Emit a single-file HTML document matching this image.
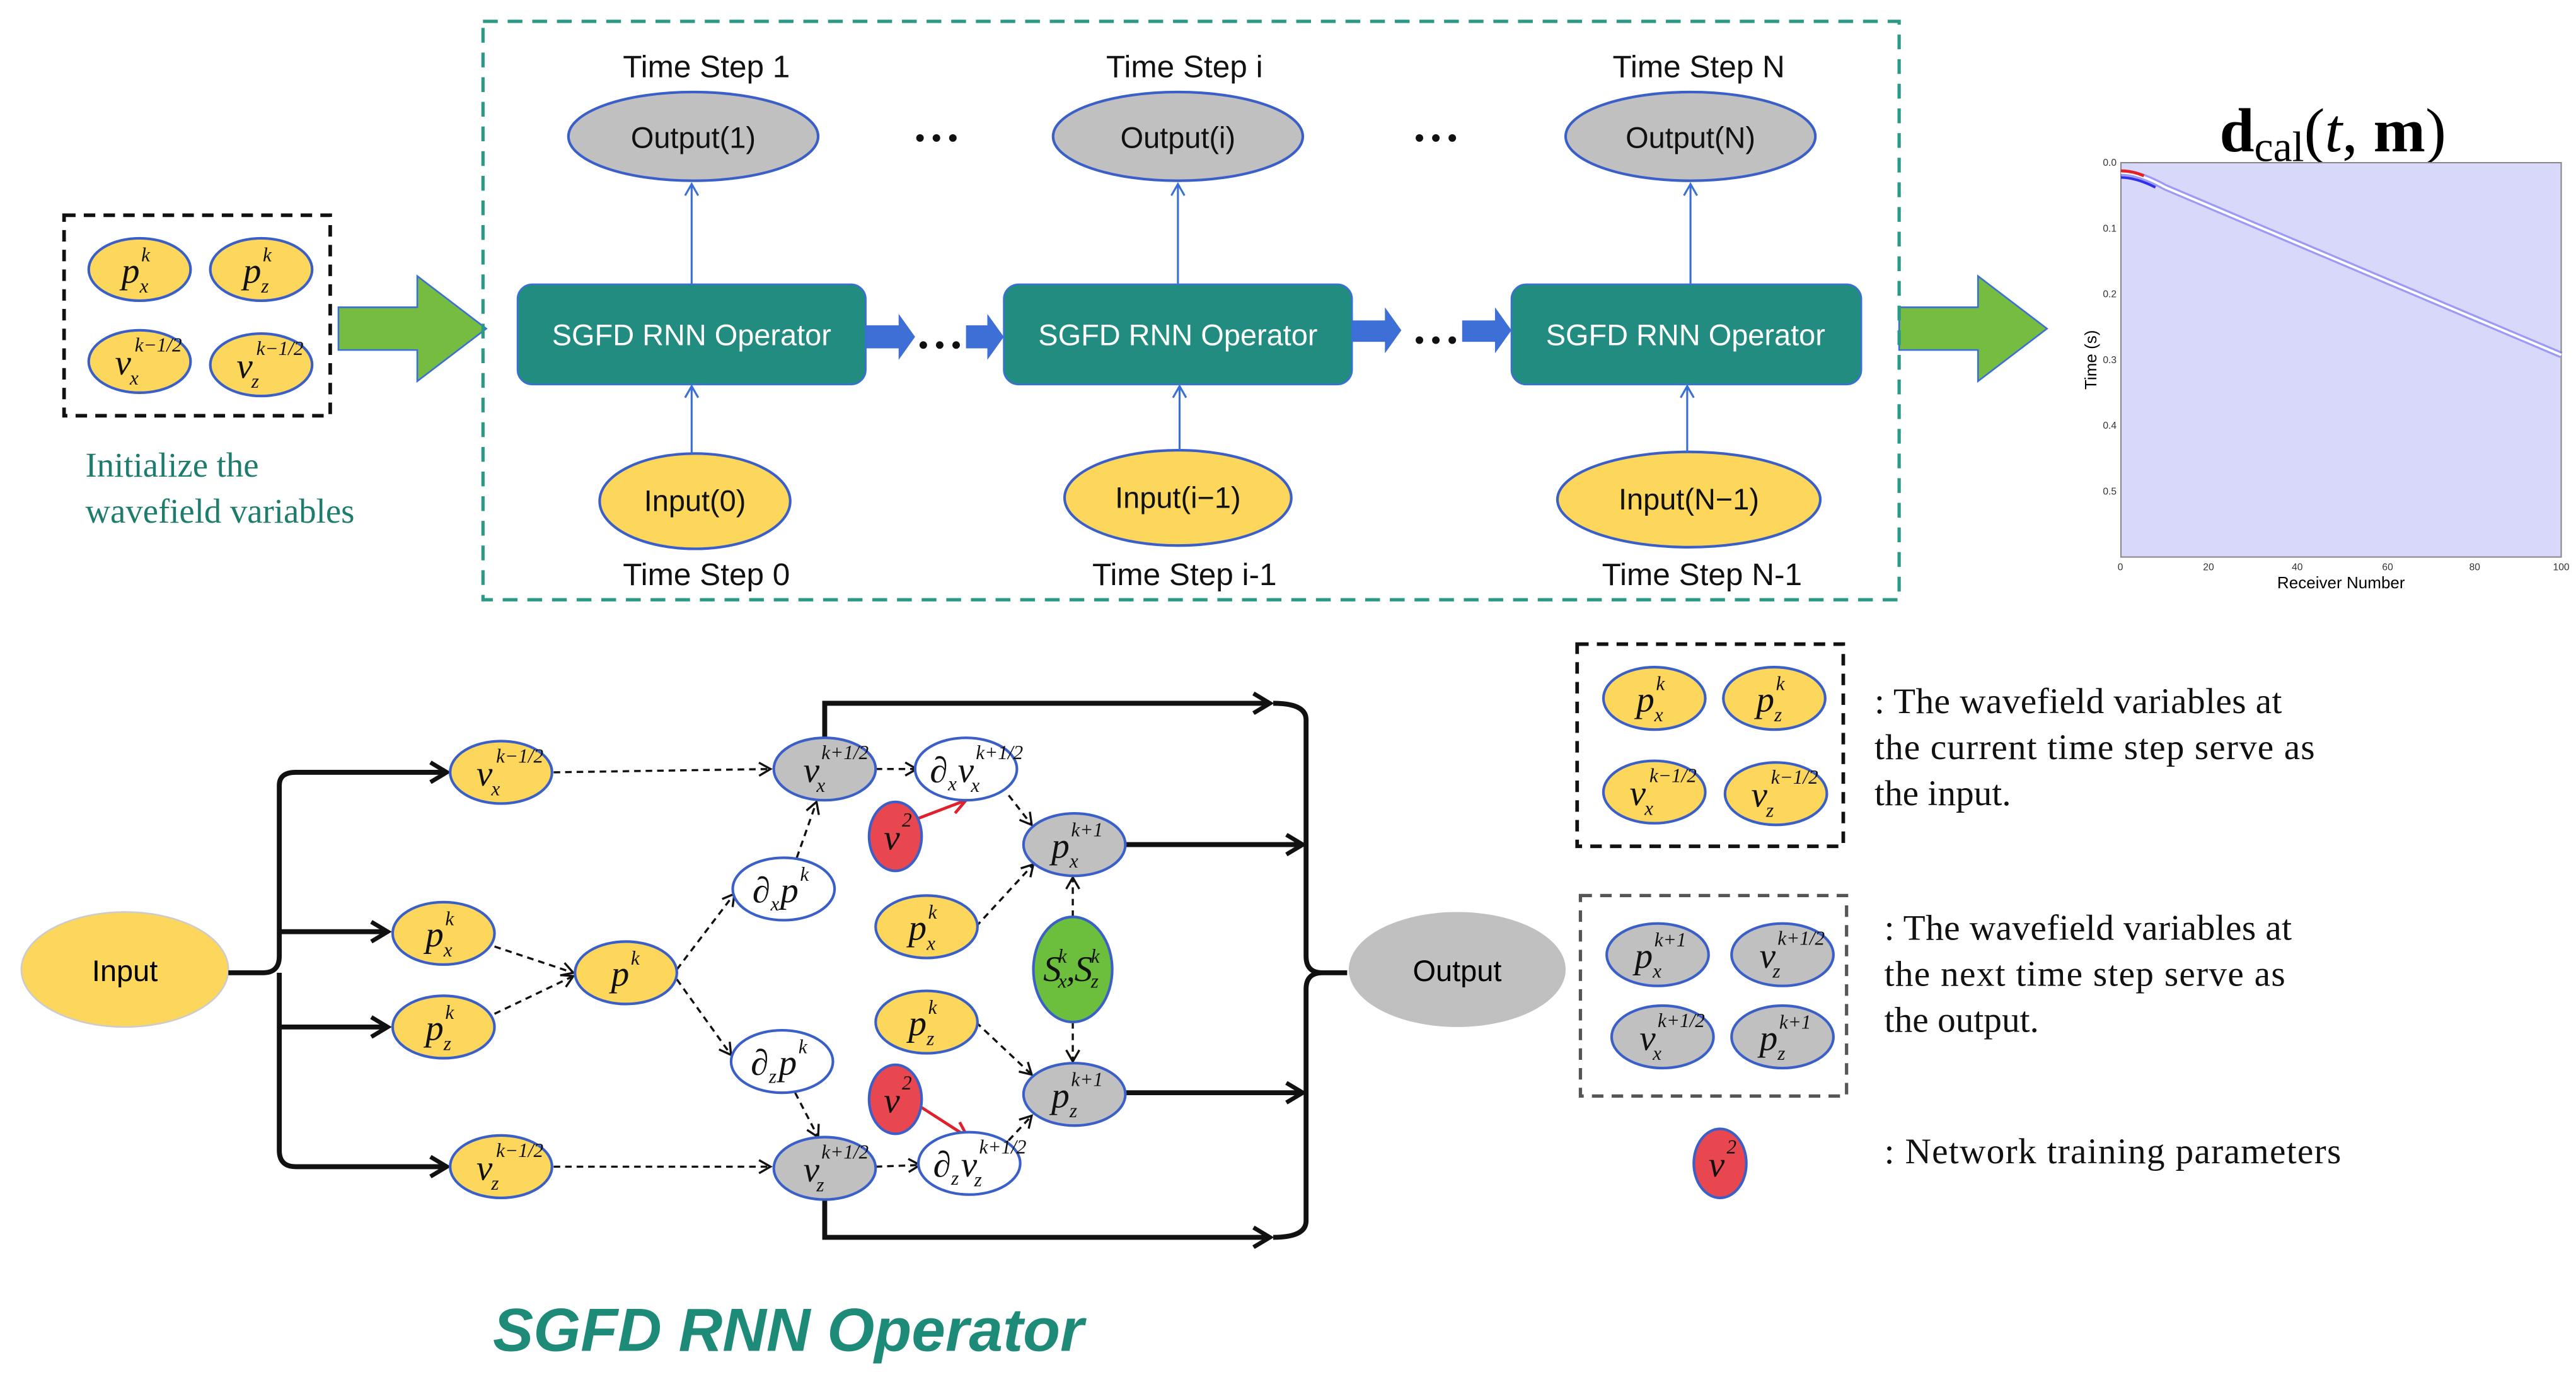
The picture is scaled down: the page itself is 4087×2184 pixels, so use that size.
<!DOCTYPE html>
<html><head><meta charset="utf-8"><style>
html,body{margin:0;padding:0;background:#fff;}
svg{display:block}
.sf{font-family:"Liberation Sans",sans-serif;}
.m{font-family:"Liberation Serif",serif;font-style:italic;font-size:22px;fill:#111}
.s{font-family:"Liberation Serif",serif;font-style:italic;font-size:12px;fill:#111}
.rm{font-family:"Liberation Serif",serif;font-size:22px;fill:#111}
.Y{fill:#fdd75c;stroke:#3a5fc8;stroke-width:1.6}
.G{fill:#c0c0c0;stroke:#3a5fc8;stroke-width:1.6}
.W{fill:#fff;stroke:#3a5fc8;stroke-width:1.6}
.R{fill:#e8474f;stroke:#3a5fc8;stroke-width:1.6}
.d{stroke:#111;stroke-width:1.3;stroke-dasharray:4 3;fill:none}
.k{stroke:#111;stroke-width:3;fill:none}
</style></head><body>
<svg width="4087" height="2184" viewBox="0 0 1568 838" preserveAspectRatio="none" xmlns="http://www.w3.org/2000/svg">
<defs>
<marker id="oa" markerWidth="10" markerHeight="10" refX="8" refY="5" orient="auto" markerUnits="userSpaceOnUse"><path d="M1,1 L8,5 L1,9" fill="none" stroke="#111" stroke-width="1.3"/></marker>
<marker id="ka" markerWidth="14" markerHeight="14" refX="11" refY="7" orient="auto" markerUnits="userSpaceOnUse"><path d="M1,1 L11,7 L1,13" fill="none" stroke="#111" stroke-width="2.6"/></marker>
<marker id="ba" markerWidth="10" markerHeight="10" refX="8" refY="5" orient="auto" markerUnits="userSpaceOnUse"><path d="M1,1 L8,5 L1,9" fill="none" stroke="#3a6fd8" stroke-width="1.2"/></marker>
<marker id="ra" markerWidth="12" markerHeight="12" refX="10" refY="6" orient="auto" markerUnits="userSpaceOnUse"><path d="M1,1 L10,6 L1,11" fill="none" stroke="#e0202c" stroke-width="1.8"/></marker>
</defs>

<!-- left init box -->
<rect x="39" y="131" width="162" height="122" fill="none" stroke="#111" stroke-width="2.2" stroke-dasharray="7 5"/>
<ellipse class="Y" cx="85" cy="164" rx="31" ry="19"/><text class="m" x="74" y="172">p</text><text class="s" x="86" y="159">k</text><text class="s" x="85" y="178">x</text>
<ellipse class="Y" cx="159" cy="164" rx="31" ry="19"/><text class="m" x="148" y="172">p</text><text class="s" x="160" y="159">k</text><text class="s" x="159" y="178">z</text>
<ellipse class="Y" cx="85" cy="220" rx="31" ry="19"/><text class="m" x="70" y="228">v</text><text class="s" x="82" y="214">k−1/2</text><text class="s" x="79" y="234">x</text>
<ellipse class="Y" cx="159" cy="222" rx="31" ry="19"/><text class="m" x="144" y="230">v</text><text class="s" x="156" y="216">k−1/2</text><text class="s" x="153" y="236">z</text>
<text x="52" y="290" font-family="Liberation Serif,serif" font-size="21" fill="#1e7c6c">Initialize the</text>
<text x="52" y="318" font-family="Liberation Serif,serif" font-size="21" fill="#1e7c6c">wavefield variables</text>

<!-- green arrows -->
<polygon points="206,187 254,187 254,168 296,200 254,232 254,213 206,213" fill="#76bc40" stroke="#3a6fd8" stroke-width="1"/>
<polygon points="1156,187 1204,187 1204,168 1246,200 1204,232 1204,213 1156,213" fill="#76bc40" stroke="#3a6fd8" stroke-width="1"/>

<!-- teal dashed box -->
<rect x="294" y="13" width="862" height="352" fill="none" stroke="#2a9a86" stroke-width="2" stroke-dasharray="9 6"/>

<g class="sf" font-size="19" fill="#111" text-anchor="middle">
<text x="430" y="47">Time Step 1</text>
<text x="721" y="47">Time Step i</text>
<text x="1034" y="47">Time Step N</text>
<text x="430" y="356">Time Step 0</text>
<text x="721" y="356">Time Step i-1</text>
<text x="1036" y="356">Time Step N-1</text>
</g>
<ellipse class="G" cx="422" cy="83" rx="76" ry="27"/>
<ellipse class="G" cx="717" cy="83" rx="76" ry="27"/>
<ellipse class="G" cx="1029" cy="83" rx="76" ry="27"/>
<ellipse class="Y" cx="423" cy="305" rx="58" ry="29"/>
<ellipse class="Y" cx="717" cy="303" rx="69" ry="29"/>
<ellipse class="Y" cx="1028" cy="304" rx="80" ry="29"/>
<g class="sf" font-size="18" fill="#111" text-anchor="middle">
<text x="422" y="90">Output(1)</text>
<text x="717" y="90">Output(i)</text>
<text x="1029" y="90">Output(N)</text>
<text x="423" y="311">Input(0)</text>
<text x="717" y="309">Input(i−1)</text>
<text x="1028" y="310">Input(N−1)</text>
</g>
<g fill="#111">
<circle cx="560" cy="84" r="2.3"/><circle cx="570" cy="84" r="2.3"/><circle cx="580" cy="84" r="2.3"/>
<circle cx="864" cy="84" r="2.3"/><circle cx="874" cy="84" r="2.3"/><circle cx="884" cy="84" r="2.3"/>
<circle cx="562" cy="210" r="2.3"/><circle cx="572" cy="210" r="2.3"/><circle cx="582" cy="210" r="2.3"/>
<circle cx="864" cy="207" r="2.3"/><circle cx="874" cy="207" r="2.3"/><circle cx="884" cy="207" r="2.3"/>
</g>
<g stroke="#3a6fd8" stroke-width="1.2">
<line x1="421" y1="173" x2="421" y2="112" marker-end="url(#ba)"/>
<line x1="717" y1="173" x2="717" y2="112" marker-end="url(#ba)"/>
<line x1="1029" y1="173" x2="1029" y2="112" marker-end="url(#ba)"/>
<line x1="421" y1="276" x2="421" y2="235" marker-end="url(#ba)"/>
<line x1="718" y1="274" x2="718" y2="235" marker-end="url(#ba)"/>
<line x1="1027" y1="275" x2="1027" y2="235" marker-end="url(#ba)"/>
</g>
<g fill="#3d6fd6">
<polygon points="527,198 547,198 547,191 557,205 547,219 547,212 527,212"/>
<polygon points="588,198 601,198 601,191 611,205 601,219 601,212 588,212"/>
<polygon points="823,195 843,195 843,187 853,201 843,215 843,208 823,208"/>
<polygon points="890,195 910,195 910,187 920,201 910,215 910,208 890,208"/>
</g>
<g fill="#238c80" stroke="#3a6fd8" stroke-width="1">
<rect x="315" y="173" width="212" height="61" rx="9"/>
<rect x="611" y="173" width="212" height="61" rx="9"/>
<rect x="920" y="173" width="213" height="61" rx="9"/>
</g>
<g class="sf" font-size="18" fill="#fff" text-anchor="middle">
<text x="421" y="210">SGFD RNN Operator</text>
<text x="717" y="210">SGFD RNN Operator</text>
<text x="1026" y="210">SGFD RNN Operator</text>
</g>

<!-- plot -->
<text x="1420" y="92" text-anchor="middle" font-family="Liberation Serif,serif" font-size="38"><tspan font-weight="bold">d</tspan><tspan font-size="26" dy="6">cal</tspan><tspan dy="-6">(</tspan><tspan font-style="italic">t</tspan><tspan>, </tspan><tspan font-weight="bold">m</tspan><tspan>)</tspan></text>
<rect x="1291" y="99" width="268" height="240" fill="#d8d8fa" stroke="#888" stroke-width="0.8"/>
<path d="M1291,105 Q1302,105 1318,114 L1559,216" stroke="#6a6af0" stroke-width="4" fill="none" opacity="0.55"/>
<path d="M1291,105 Q1302,105 1318,114 L1559,216" stroke="#fff" stroke-width="1.5" fill="none"/>
<path d="M1291,104 Q1298,104 1305,107" stroke="#e82020" stroke-width="1.8" fill="none"/>
<path d="M1291,108 Q1300,108 1312,114" stroke="#3030e8" stroke-width="1.6" fill="none"/>
<g font-family="Liberation Sans,sans-serif" font-size="6" fill="#333">
<text x="1280" y="101">0.0</text><text x="1280" y="141">0.1</text><text x="1280" y="181">0.2</text><text x="1280" y="221">0.3</text><text x="1280" y="261">0.4</text><text x="1280" y="301">0.5</text>
<text x="1289" y="347">0</text><text x="1341" y="347">20</text><text x="1395" y="347">40</text><text x="1450" y="347">60</text><text x="1503" y="347">80</text><text x="1554" y="347">100</text>
</g>
<text x="1425" y="358" text-anchor="middle" font-family="Liberation Sans,sans-serif" font-size="10">Receiver Number</text>
<text transform="translate(1276,219) rotate(-90)" text-anchor="middle" font-family="Liberation Sans,sans-serif" font-size="10">Time (s)</text>

<!-- bottom diagram -->
<ellipse cx="76" cy="590" rx="63" ry="35" fill="#fdd75c" stroke="#ccc" stroke-width="1"/>
<text x="76" y="597" text-anchor="middle" class="sf" font-size="18">Input</text>
<path class="k" d="M139,592 L160,592 Q170,592 170,582 L170,478 Q170,470 180,470 L272,470" marker-end="url(#ka)"/>
<path class="k" d="M170,592 Q170,602 170,612 L170,700 Q170,710 180,710 L272,710" marker-end="url(#ka)"/>
<path class="k" d="M170,567 L236,567" marker-end="url(#ka)"/>
<path class="k" d="M170,625 L236,625" marker-end="url(#ka)"/>

<!-- dashed edges -->
<line class="d" x1="337" y1="470" x2="469" y2="468" marker-end="url(#oa)"/>
<line class="d" x1="337" y1="710" x2="469" y2="710" marker-end="url(#oa)"/>
<line class="d" x1="301" y1="576" x2="349" y2="592" marker-end="url(#oa)"/>
<line class="d" x1="301" y1="617" x2="349" y2="594" marker-end="url(#oa)"/>
<line class="d" x1="412" y1="590" x2="447" y2="544" marker-end="url(#oa)"/>
<line class="d" x1="412" y1="596" x2="445" y2="642" marker-end="url(#oa)"/>
<line class="d" x1="485" y1="522" x2="497" y2="488" marker-end="url(#oa)"/>
<line class="d" x1="484" y1="665" x2="498" y2="692" marker-end="url(#oa)"/>
<line class="d" x1="533" y1="468" x2="558" y2="468" marker-end="url(#oa)"/>
<line class="d" x1="533" y1="710" x2="560" y2="709" marker-end="url(#oa)"/>
<line class="d" x1="614" y1="484" x2="628" y2="502" marker-end="url(#oa)"/>
<line class="d" x1="614" y1="694" x2="628" y2="679" marker-end="url(#oa)"/>
<line class="d" x1="594" y1="564" x2="629" y2="526" marker-end="url(#oa)"/>
<line class="d" x1="594" y1="622" x2="628" y2="654" marker-end="url(#oa)"/>
<line class="d" x1="653" y1="558" x2="653" y2="534" marker-end="url(#oa)"/>
<line class="d" x1="653" y1="622" x2="653" y2="646" marker-end="url(#oa)"/>
<line x1="559" y1="498" x2="588" y2="487" stroke="#e0202c" stroke-width="1.8" marker-end="url(#ra)"/>
<line x1="561" y1="674" x2="589" y2="692" stroke="#e0202c" stroke-width="1.8" marker-end="url(#ra)"/>

<!-- thick outputs -->
<path class="k" d="M502,450 L502,428 L773,428" marker-end="url(#ka)"/>
<path class="k" d="M502,730 L502,753 L773,753" marker-end="url(#ka)"/>
<path class="k" d="M685,514 L793,514" marker-end="url(#ka)"/>
<path class="k" d="M685,665 L793,665" marker-end="url(#ka)"/>
<path class="k" d="M775,428 Q795,428 795,438 L795,582 Q795,592 805,592 L820,592 M805,592 Q795,592 795,602 L795,743 Q795,753 775,753"/>
<ellipse cx="887" cy="590" rx="66" ry="35" fill="#c0c0c0"/>
<text x="887" y="597" text-anchor="middle" class="sf" font-size="18">Output</text>

<!-- nodes -->
<ellipse class="Y" cx="305" cy="470" rx="31" ry="19"/><text class="m" x="290" y="478">v</text><text class="s" x="302" y="464">k−1/2</text><text class="s" x="299" y="484">x</text>
<ellipse class="Y" cx="305" cy="710" rx="31" ry="19"/><text class="m" x="290" y="718">v</text><text class="s" x="302" y="704">k−1/2</text><text class="s" x="299" y="724">z</text>
<ellipse class="Y" cx="270" cy="568" rx="31" ry="19"/><text class="m" x="259" y="576">p</text><text class="s" x="271" y="563">k</text><text class="s" x="270" y="582">x</text>
<ellipse class="Y" cx="270" cy="625" rx="31" ry="19"/><text class="m" x="259" y="633">p</text><text class="s" x="271" y="620">k</text><text class="s" x="270" y="639">z</text>
<ellipse class="Y" cx="381" cy="592" rx="31" ry="19"/><text class="m" x="372" y="600">p</text><text class="s" x="384" y="587">k</text>
<ellipse class="W" cx="477" cy="541" rx="31" ry="19"/><text class="m" x="458" y="549">∂</text><text class="s" x="469" y="554">x</text><text class="m" x="475" y="549">p</text><text class="s" x="487" y="536">k</text>
<ellipse class="W" cx="476" cy="646" rx="31" ry="19"/><text class="m" x="457" y="654">∂</text><text class="s" x="468" y="659">z</text><text class="m" x="474" y="654">p</text><text class="s" x="486" y="641">k</text>
<ellipse class="G" cx="502" cy="468" rx="31" ry="19"/><text class="m" x="489" y="476">v</text><text class="s" x="500" y="462">k+1/2</text><text class="s" x="497" y="482">x</text>
<ellipse class="G" cx="502" cy="711" rx="31" ry="19"/><text class="m" x="489" y="719">v</text><text class="s" x="500" y="705">k+1/2</text><text class="s" x="497" y="725">z</text>
<ellipse class="W" cx="588" cy="468" rx="31" ry="19"/><text class="m" x="566" y="476">∂</text><text class="s" x="577" y="481">x</text><text class="m" x="583" y="476">v</text><text class="s" x="594" y="462">k+1/2</text><text class="s" x="591" y="482">x</text>
<ellipse class="W" cx="590" cy="708" rx="31" ry="19"/><text class="m" x="568" y="716">∂</text><text class="s" x="579" y="721">z</text><text class="m" x="585" y="716">v</text><text class="s" x="596" y="702">k+1/2</text><text class="s" x="593" y="722">z</text>
<ellipse class="R" cx="545" cy="509" rx="16" ry="21"/><text class="m" x="538" y="517">v</text><text class="s" x="549" y="503">2</text>
<ellipse class="R" cx="545" cy="669" rx="16" ry="21"/><text class="m" x="538" y="677">v</text><text class="s" x="549" y="663">2</text>
<ellipse class="G" cx="654" cy="514" rx="31" ry="19"/><text class="m" x="640" y="522">p</text><text class="s" x="652" y="509">k+1</text><text class="s" x="651" y="528">x</text>
<ellipse class="G" cx="654" cy="666" rx="31" ry="19"/><text class="m" x="640" y="674">p</text><text class="s" x="652" y="661">k+1</text><text class="s" x="651" y="680">z</text>
<ellipse class="Y" cx="564" cy="564" rx="31" ry="19"/><text class="m" x="553" y="572">p</text><text class="s" x="565" y="559">k</text><text class="s" x="564" y="578">x</text>
<ellipse class="Y" cx="564" cy="622" rx="31" ry="19"/><text class="m" x="553" y="630">p</text><text class="s" x="565" y="617">k</text><text class="s" x="564" y="636">z</text>
<ellipse cx="653" cy="590" rx="24" ry="32" fill="#6cbf3c" stroke="#3a5fc8" stroke-width="1.6"/>
<text class="m" x="635" y="597" font-size="17">S</text><text class="s" x="644" y="586" font-size="9">k</text><text class="s" x="644" y="601" font-size="9">x</text><text class="m" x="649" y="597" font-size="17">,</text><text class="m" x="654" y="597" font-size="17">S</text><text class="s" x="664" y="586" font-size="9">k</text><text class="s" x="664" y="601" font-size="9">z</text>

<text x="300" y="822" font-family="Liberation Sans,sans-serif" font-size="37" font-weight="bold" font-style="italic" fill="#1e8a78">SGFD RNN Operator</text>

<!-- legend -->
<rect x="960" y="392" width="162" height="123" fill="none" stroke="#111" stroke-width="2.2" stroke-dasharray="7 5"/>
<ellipse class="Y" cx="1007" cy="425" rx="31" ry="19"/><text class="m" x="996" y="433">p</text><text class="s" x="1008" y="420">k</text><text class="s" x="1007" y="439">x</text>
<ellipse class="Y" cx="1080" cy="425" rx="31" ry="19"/><text class="m" x="1069" y="433">p</text><text class="s" x="1081" y="420">k</text><text class="s" x="1080" y="439">z</text>
<ellipse class="Y" cx="1007" cy="482" rx="31" ry="19"/><text class="m" x="992" y="490">v</text><text class="s" x="1004" y="476">k−1/2</text><text class="s" x="1001" y="496">x</text>
<ellipse class="Y" cx="1081" cy="483" rx="31" ry="19"/><text class="m" x="1066" y="491">v</text><text class="s" x="1078" y="477">k−1/2</text><text class="s" x="1075" y="497">z</text>
<rect x="962" y="545" width="162" height="122" fill="none" stroke="#555" stroke-width="2" stroke-dasharray="7 5"/>
<ellipse class="G" cx="1009" cy="581" rx="31" ry="19"/><text class="m" x="995" y="589">p</text><text class="s" x="1007" y="576">k+1</text><text class="s" x="1006" y="595">x</text>
<ellipse class="G" cx="1085" cy="581" rx="31" ry="19"/><text class="m" x="1071" y="589">v</text><text class="s" x="1082" y="575">k+1/2</text><text class="s" x="1079" y="595">z</text>
<ellipse class="G" cx="1012" cy="631" rx="31" ry="19"/><text class="m" x="998" y="639">v</text><text class="s" x="1009" y="625">k+1/2</text><text class="s" x="1006" y="645">x</text>
<ellipse class="G" cx="1085" cy="631" rx="31" ry="19"/><text class="m" x="1071" y="639">p</text><text class="s" x="1083" y="626">k+1</text><text class="s" x="1082" y="645">z</text>
<ellipse class="R" cx="1047" cy="708" rx="16" ry="21"/><text class="m" x="1040" y="716">v</text><text class="s" x="1051" y="702">2</text>
<g class="rm">
<text x="1141" y="434" textLength="248">: The wavefield variables at</text>
<text x="1141" y="462" textLength="268">the current time step serve as</text>
<text x="1141" y="490">the input.</text>
<text x="1147" y="572" textLength="248">: The wavefield variables at</text>
<text x="1147" y="600" textLength="244">the next time step serve as</text>
<text x="1147" y="628">the output.</text>
<text x="1147" y="708" textLength="278">: Network training parameters</text>
</g>
</svg>
</body></html>
